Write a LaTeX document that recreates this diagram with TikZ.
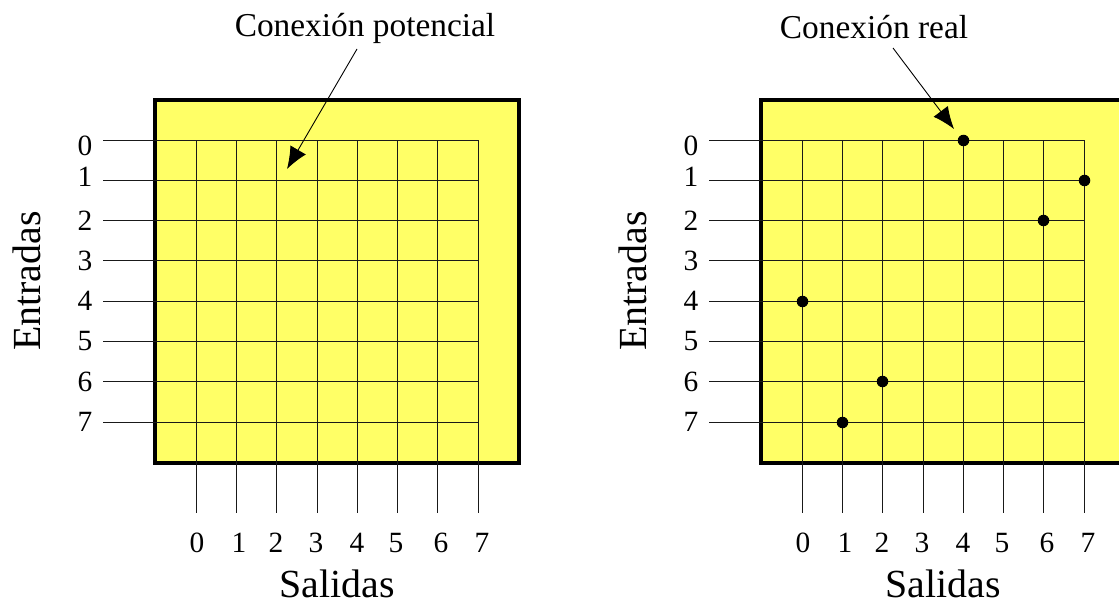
\documentclass[tikz,border=0pt]{standalone}
\usepackage{fontspec}
\setmainfont{Liberation Serif}
\usetikzlibrary{arrows.meta}
\definecolor{panel}{RGB}{255,255,102}
\begin{document}
\begin{tikzpicture}[x=1bp,y=-1bp,
  gridline/.style={line width=1.5bp,draw=black!90},
  frame/.style={fill=panel,draw=black,line width=3.5bp},
  digit/.style={font=\fontsize{29.5}{30}\selectfont,inner sep=0pt},
  axistitle/.style={font=\fontsize{40}{44}\selectfont,inner sep=0pt},
  calltext/.style={font=\fontsize{33.5}{36}\selectfont,inner sep=0pt},
  callout/.style={line width=0.9bp,-{Latex[length=22bp,width=18bp]}},
  conn/.style={circle,fill=black,inner sep=0pt,minimum size=11.5bp}]
\useasboundingbox (0,0) rectangle (1119,606);
\clip (0,0) rectangle (1119,606);
\fill[white] (0,0) rectangle (1119,606);
% frames
\draw[frame] (155,100) rectangle (519,463);
\draw[frame] (761,100) rectangle (1135,463);
% grids
\foreach \o/\p in {0/L,606/R}{
  \foreach \yy in {140.5,180.5,220.5,260.5,301.5,341.5,381.5,422.5}{
    \draw[gridline] ({103+\o},\yy) -- ({478.5+\o},\yy);
  }
  \foreach \xx in {196.5,236.5,276.5,317.5,357.5,397.5,437.5,478.5}{
    \draw[gridline] ({\xx+\o},140.5) -- ({\xx+\o},513);
  }
  \foreach \k/\yy in {0/146,1/177,2/220.6,3/260.9,4/301.2,5/341.5,6/381.8,7/422.1}{
    \node[digit] (row\p\k) at ({85+\o},\yy) {\k};
  }
  \foreach \k/\xx in {0/197,1/239,2/276,3/316,4/357,5/396,6/441,7/482}{
    \node[digit] (col\p\k) at ({\xx+\o},543) {\k};
  }
  \node[axistitle] (sal\p) at ({337+\o},584) {Salidas};
  \node[axistitle,rotate=90] (ent\p) at ({27+\o},281) {Entradas};
}
% connections (column, row)
\foreach \c/\r/\xx/\yy in {4/0/963.5/140.5,7/1/1084.5/180.5,6/2/1043.5/220.5,0/4/802.5/301.5,2/6/882.5/381.5,1/7/842.5/422.5}{
  \node[conn] (dot\c\r) at (\xx,\yy) {};
}
% callouts
\node[calltext] (pot) at (365,28) {Conexión potencial};
\node[calltext] (real) at (874,27) {Conexión real};
\coordinate (potsrc) at (357,49);
\coordinate (pottip) at (287,169);
\coordinate (realsrc) at (893,48);
\coordinate (realtip) at (954,129);
\draw[callout] (potsrc) -- (pottip);
\draw[callout] (realsrc) -- (realtip);
\end{tikzpicture}
\end{document}
